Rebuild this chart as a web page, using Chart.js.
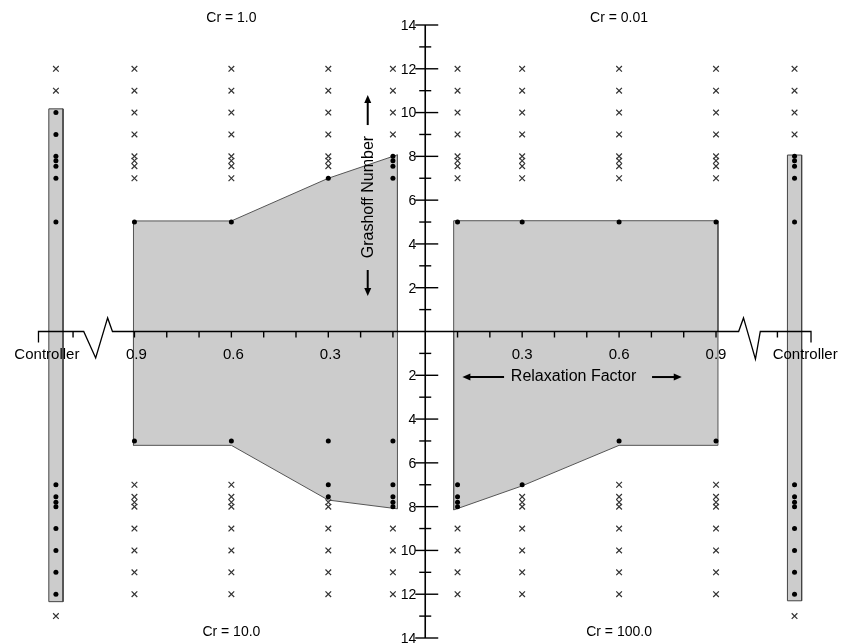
<!DOCTYPE html>
<html>
<head>
<meta charset="utf-8">
<title>Convergence map</title>
<script src="https://cdn.jsdelivr.net/npm/chart.js@4.4.1/dist/chart.umd.min.js"></script>
<style>
  html, body { margin: 0; padding: 0; background: #fff; }
  #wrap { width: 844px; height: 644px; }
</style>
</head>
<body>
<div id="wrap"><canvas id="mapChart" width="844" height="644"></canvas></div>
<script>
// Gr levels are log10 of the Grashoff number, 'C' is the controller run
const CTRL = 'C';
const ctrlPos = 1.143;

// Cr = 1.0 (upper left)
const cr1Converged = [[CTRL, [10, 9, 8, 7.8, 7.55, 7, 5]], [0.9, [5]], [0.6, [5]], [0.3, [7]], [0.1, [8, 7.8, 7.55, 7]]];
const cr1Failed = [[CTRL, [12, 11]], [0.9, [12, 11, 10, 9, 8, 7.8, 7.55, 7]], [0.6, [12, 11, 10, 9, 8, 7.8, 7.55, 7]], [0.3, [12, 11, 10, 9, 8, 7.8, 7.55]], [0.1, [12, 11, 10, 9]]];
const cr1Region = [[0.903, 0], [0.903, 5.05], [0.6, 5.05], [0.3, 7], [0.086, 8.07], [0.086, 0], [0.903, 0]];

// Cr = 0.01 (upper right)
const cr001Converged = [[0.1, [5]], [0.3, [5]], [0.6, [5]], [0.9, [5]], [CTRL, [8, 7.8, 7.55, 7, 5]]];
const cr001Failed = [[0.1, [12, 11, 10, 9, 8, 7.8, 7.55, 7]], [0.3, [12, 11, 10, 9, 8, 7.8, 7.55, 7]], [0.6, [12, 11, 10, 9, 8, 7.8, 7.55, 7]], [0.9, [12, 11, 10, 9, 8, 7.8, 7.55, 7]], [CTRL, [12, 11, 10, 9]]];
const cr001Region = [[0.088, 0], [0.088, 5.06], [0.906, 5.06], [0.906, 0], [0.088, 0]];

// Cr = 10.0 (lower left)
const cr10Converged = [[CTRL, [7, 7.55, 7.8, 8, 9, 10, 11, 12]], [0.9, [5]], [0.6, [5]], [0.3, [5, 7, 7.55]], [0.1, [5, 7, 7.55, 7.8, 8]]];
const cr10Failed = [[CTRL, [13]], [0.9, [7, 7.55, 7.8, 8, 9, 10, 11, 12]], [0.6, [7, 7.55, 7.8, 8, 9, 10, 11, 12]], [0.3, [7.8, 8, 9, 10, 11, 12]], [0.1, [9, 10, 11, 12]]];
const cr10Region = [[0.903, 0], [0.903, 5.2], [0.6, 5.2], [0.3, 7.7], [0.086, 8.1], [0.086, 0], [0.903, 0]];

// Cr = 100.0 (lower right)
const cr100Converged = [[0.1, [7, 7.55, 7.8, 8]], [0.3, [7]], [0.6, [5]], [0.9, [5]], [CTRL, [7, 7.55, 7.8, 8, 9, 10, 11, 12]]];
const cr100Failed = [[0.1, [9, 10, 11, 12]], [0.3, [7.55, 7.8, 8, 9, 10, 11, 12]], [0.6, [7, 7.55, 7.8, 8, 9, 10, 11, 12]], [0.9, [7, 7.55, 7.8, 8, 9, 10, 11, 12]], [CTRL, [13]]];
const cr100Region = [[0.088, 0], [0.088, 8.15], [0.3, 7.05], [0.6, 5.2], [0.906, 5.2], [0.906, 0], [0.088, 0]];

// controller bars: how far they reach above / below the axis
const leftCtrlBar = [10.17, 12.34];
const rightCtrlBar = [8.06, 12.3];

// axis ticks
const relaxLabels = [0.3, 0.6, 0.9];
const relaxMinor = [0.1, 0.2, 0.3, 0.4, 0.5, 0.6, 0.7, 0.8, 0.9];
const grLabels = [2, 4, 6, 8, 10, 12, 14];
const grMinor = [1, 3, 5, 7, 9, 11, 13];

const quadTitles = [['Cr = 1.0', -1, 1], ['Cr = 0.01', 1, 1], ['Cr = 10.0', -1, -1], ['Cr = 100.0', 1, -1]];

const FONT = '"Liberation Sans", Arial, sans-serif';

// sx/sy put a quadrant on the right side of the cross
function toPoints(cols, sx, sy) {
    var pts = [];
    cols.forEach(function(col) {
        var rf = col[0] === CTRL ? ctrlPos : col[0];
        col[1].forEach(function(gr) {
            pts.push({ x: sx * rf, y: sy * gr });
        });
    });
    return pts;
}

function toShape(pairs, sx, sy) {
    return pairs.map(p => ({ x: sx * p[0], y: sy * p[1] }));
}

function barShape(center, ext) {
    var w = 0.022;
    return [
        { x: center - w, y: ext[0] }, { x: center + w, y: ext[0] },
        { x: center + w, y: -ext[1] }, { x: center - w, y: -ext[1] },
        { x: center - w, y: ext[0] }
    ];
}

function regionSet(points, border) {
    return {
        data: points,
        showLine: true,
        fill: 'shape',
        backgroundColor: '#cccccc',
        borderColor: border,
        borderWidth: 1,
        pointRadius: 0,
        order: 5
    };
}

function dotSet(points) {
    return { data: points, pointStyle: 'circle', pointRadius: 2.5, backgroundColor: '#000', borderColor: '#000', borderWidth: 0, order: 1 };
}

function crossSet(points) {
    return { data: points, pointStyle: 'crossRot', pointRadius: 4, borderColor: '#333', borderWidth: 1.2, order: 2 };
}

function arrow(ctx, x1, y1, x2, y2) {
    var a = Math.atan2(y2 - y1, x2 - x1);
    var hl = 8, hw = 3.5;
    ctx.beginPath();
    ctx.moveTo(x1, y1);
    ctx.lineTo(x2 - Math.cos(a) * hl * 0.8, y2 - Math.sin(a) * hl * 0.8);
    ctx.stroke();
    ctx.beginPath();
    ctx.moveTo(x2, y2);
    ctx.lineTo(x2 - Math.cos(a) * hl - Math.sin(a) * hw, y2 - Math.sin(a) * hl + Math.cos(a) * hw);
    ctx.lineTo(x2 - Math.cos(a) * hl + Math.sin(a) * hw, y2 - Math.sin(a) * hl - Math.cos(a) * hw);
    ctx.closePath();
    ctx.fill();
}

// draws the cross of axes, the broken relaxation axis and all labels
const crossAxes = {
    id: 'crossAxes',
    afterDatasetsDraw: function(chart) {
        var ctx = chart.ctx;
        var px = v => chart.scales.x.getPixelForValue(v);
        var py = v => chart.scales.y.getPixelForValue(v);
        var x0 = px(0), y0 = py(0);

        ctx.save();
        ctx.strokeStyle = '#000';
        ctx.fillStyle = '#000';

        // Grashoff axis
        ctx.lineWidth = 1.6;
        ctx.beginPath();
        ctx.moveTo(x0, py(14));
        ctx.lineTo(x0, py(-14));
        ctx.stroke();

        ctx.lineWidth = 1.4;
        ctx.font = '14px ' + FONT;
        ctx.textAlign = 'right';
        ctx.textBaseline = 'middle';
        [1, -1].forEach(function(s) {
            grLabels.forEach(function(g) {
                var y = py(s * g);
                ctx.beginPath();
                ctx.moveTo(x0 - 10, y);
                ctx.lineTo(x0 + 13, y);
                ctx.stroke();
                ctx.fillText(String(g), x0 - 9, y + 1);
            });
            grMinor.forEach(function(g) {
                var y = py(s * g);
                ctx.beginPath();
                ctx.moveTo(x0 - 6, y);
                ctx.lineTo(x0 + 6, y);
                ctx.stroke();
            });
        });

        // relaxation axis with the breaks before the controller runs
        ctx.lineWidth = 1.3;
        ctx.beginPath();
        ctx.moveTo(px(-1.197), y0 + 11);
        ctx.lineTo(px(-1.197), y0);
        ctx.lineTo(px(-1.057), y0);
        ctx.lineTo(px(-1.02), py(-1.21));
        ctx.lineTo(px(-0.983), py(0.62));
        ctx.lineTo(px(-0.968), y0);
        ctx.lineTo(px(0.970), y0);
        ctx.lineTo(px(0.985), py(0.62));
        ctx.lineTo(px(1.022), py(-1.26));
        ctx.lineTo(px(1.037), y0);
        ctx.lineTo(px(1.194), y0);
        ctx.lineTo(px(1.194), y0 + 11);
        ctx.stroke();

        ctx.lineWidth = 1.4;
        relaxMinor.concat([1.09]).forEach(function(r) {
            [-1, 1].forEach(function(s) {
                ctx.beginPath();
                ctx.moveTo(px(s * r), y0);
                ctx.lineTo(px(s * r), y0 + 6);
                ctx.stroke();
            });
        });

        ctx.font = '15px ' + FONT;
        ctx.textAlign = 'center';
        relaxLabels.forEach(function(r) {
            ctx.fillText(r.toFixed(1), px(-r) + 2, y0 + 23);
            ctx.fillText(r.toFixed(1), px(r), y0 + 23);
        });
        ctx.fillText('Controller', px(-1.171), y0 + 23);
        ctx.fillText('Controller', px(1.176), y0 + 23);

        // axis titles with arrows
        ctx.font = '16px ' + FONT;
        ctx.fillText('Relaxation Factor', px(0.459), py(-2.08));
        ctx.lineWidth = 2;
        arrow(ctx, px(0.244), py(-2.08), px(0.115), py(-2.08));
        arrow(ctx, px(0.702), py(-2.08), px(0.794), py(-2.08));

        ctx.save();
        ctx.translate(px(-0.175), py(6.14));
        ctx.rotate(-Math.PI / 2);
        ctx.fillText('Grashoff Number', 0, 0);
        ctx.restore();
        arrow(ctx, px(-0.178), py(9.43), px(-0.178), py(10.8));
        arrow(ctx, px(-0.178), py(2.81), px(-0.178), py(1.62));

        // quadrant titles
        ctx.font = '14px ' + FONT;
        quadTitles.forEach(function(t) {
            ctx.fillText(t[0], px(t[1] * 0.6), t[2] > 0 ? py(14.3) : py(-13.75));
        });
        ctx.restore();
    }
};

const datasets = [
    regionSet(toShape(cr1Region, -1, 1), '#555'),
    regionSet(toShape(cr001Region, 1, 1), '#555'),
    regionSet(toShape(cr10Region, -1, -1), '#555'),
    regionSet(toShape(cr100Region, 1, -1), '#555'),
    regionSet(barShape(-ctrlPos, leftCtrlBar), '#444'),
    regionSet(barShape(ctrlPos, rightCtrlBar), '#444'),
    dotSet(toPoints(cr1Converged, -1, 1)),
    dotSet(toPoints(cr001Converged, 1, 1)),
    dotSet(toPoints(cr10Converged, -1, -1)),
    dotSet(toPoints(cr100Converged, 1, -1)),
    crossSet(toPoints(cr1Failed, -1, 1)),
    crossSet(toPoints(cr001Failed, 1, 1)),
    crossSet(toPoints(cr10Failed, -1, -1)),
    crossSet(toPoints(cr100Failed, 1, -1))
];

var ctx = document.getElementById('mapChart').getContext('2d');
var mapChart = new Chart(ctx, {
    type: 'scatter',
    data: { datasets: datasets },
    options: {
        responsive: false,
        animation: false,
        layout: { padding: { left: 4, right: 1, top: 25, bottom: 6 } },
        scales: {
            x: { type: 'linear', min: -1.3, max: 1.28, display: false },
            y: { type: 'linear', min: -14, max: 14, display: false }
        },
        plugins: {
            legend: { display: false },
            tooltip: { enabled: false }
        }
    },
    plugins: [crossAxes]
});
</script>
</body>
</html>
